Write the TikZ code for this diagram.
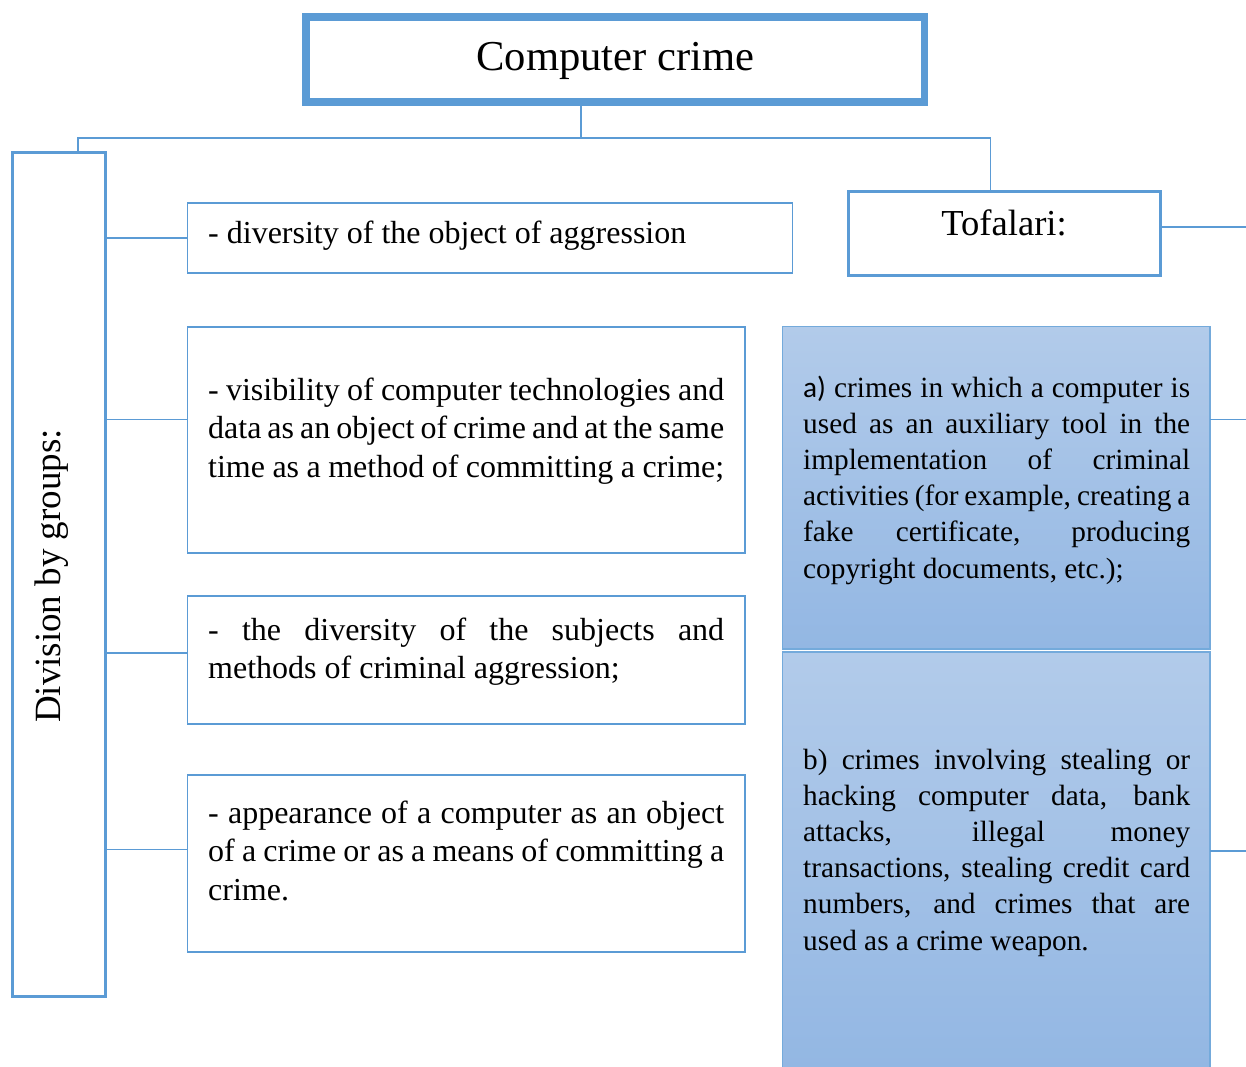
\documentclass[tikz,border=0pt]{standalone}
\usepackage{fontspec}
\setmainfont{Liberation Serif}
\newfontfamily\calfont{Carlito}
\usetikzlibrary{calc}
\definecolor{cblue}{RGB}{91,155,213}
\definecolor{gtop}{RGB}{178,203,234}
\definecolor{gbot}{RGB}{147,183,227}
\newcommand\jl[2]{\makebox[#1][s]{#2}}
\newcommand\lpar[1]{\parbox[t]{516pt}{\fontsize{32}{38.8}\selectfont #1}}
\newcommand\rpar[1]{\parbox[t]{387pt}{\fontsize{29.3}{36.2}\selectfont #1}}
\begin{document}
\begin{tikzpicture}[x=1pt,y=-1pt,
  box/.style={draw=cblue, line width=1.5pt, inner sep=0pt, outer sep=0pt, anchor=north west, rectangle},
  bluebox/.style={box, draw=cblue!85, top color=gtop, bottom color=gbot},
  conn/.style={draw=cblue, line width=1.5pt},
  ptxt/.style={inner sep=0pt, anchor=base west}]
\useasboundingbox (0,0) rectangle (1246,1066);

% title
\node[box, line width=7.5pt, minimum width=618.5pt, minimum height=85pt] (top) at (306,17) {};
\node[inner sep=0pt, anchor=base, font=\fontsize{42.6}{50}\selectfont] (toptxt) at (615.5,70.7) {Computer crime};

% groups box
\node[box, line width=3pt, minimum width=93pt, minimum height=844pt] (grp) at (12,152) {};
\node[rotate=90, anchor=base, inner sep=0pt, font=\fontsize{37}{44}\selectfont] (grptxt) at (60,576) {Division by groups:};

% left boxes
\node[box, minimum width=605pt, minimum height=70pt] (b1) at (187.5,203) {};
\node[box, minimum width=557.5pt, minimum height=226pt] (b2) at (187.5,327) {};
\node[box, minimum width=557.5pt, minimum height=128pt] (b3) at (187.5,596) {};
\node[box, minimum width=557.5pt, minimum height=177pt] (b4) at (187.5,775) {};

\node[ptxt] (t1) at (208,243) {\lpar{- diversity of the object of aggression}};
\node[ptxt] (t2) at (208,400) {\lpar{\jl{516pt}{- visibility of computer technologies and}\\
\jl{516pt}{data as an object of crime and at the same}\\
time as a method of committing a crime;}};
\node[ptxt] (t3) at (208,640) {\lpar{\jl{516pt}{- the diversity of the subjects and}\\
methods of criminal aggression;}};
\node[ptxt] (t4) at (208,823) {\lpar{\jl{516pt}{- appearance of a computer as an object}\\
\jl{516pt}{of a crime or as a means of committing a}\\
crime.}};

% Tofalari
\node[box, line width=3pt, minimum width=312pt, minimum height=84pt] (tof) at (848.5,191) {};
\node[inner sep=0pt, anchor=base, font=\fontsize{36.6}{44}\selectfont] (toftxt) at (1004,235.7) {Tofalari:};

% blue boxes
\node[bluebox, minimum width=427.5pt, minimum height=322.5pt] (ba) at (782.5,326.5) {};
\node[bluebox, minimum width=427.5pt, minimum height=416pt] (bb) at (782.5,652) {};

\node[ptxt] (ta) at (803,397) {\rpar{\jl{387pt}{{\calfont a)} crimes in which a computer is}\\
\jl{387pt}{used as an auxiliary tool in the}\\
\jl{387pt}{implementation of criminal}\\
\jl{387pt}{activities (for example, creating a}\\
\jl{387pt}{fake certificate, producing}\\
copyright documents, etc.);}};
\node[ptxt] (tb) at (803,769) {\rpar{\jl{387pt}{b) crimes involving stealing or}\\
\jl{387pt}{hacking computer data, bank}\\
\jl{387pt}{attacks, illegal money}\\
\jl{387pt}{transactions, stealing credit card}\\
\jl{387pt}{numbers, and crimes that are}\\
used as a crime weapon.}};

% top connectors
\coordinate (j) at (581,138);
\draw[conn] (top.south -| j) -- (j);
\draw[conn] (j) -| ([xshift=19.5pt]grp.north);
\draw[conn] (j) -| ([xshift=-14pt]tof.north);

% left connectors
\coordinate (p1) at ($(b1.north west)+(0,35)$);
\coordinate (p2) at ($(b2.north west)+(0,92.5)$);
\coordinate (p3) at ($(b3.north west)+(0,57)$);
\coordinate (p4) at ($(b4.north west)+(0,74.5)$);
\foreach \p in {p1,p2,p3,p4} {\draw[conn] (grp.east |- \p) -- (\p);}

% right connectors
\coordinate (qt) at ($(tof.north east)+(0,36)$);
\coordinate (qa) at ($(ba.north east)+(0,93)$);
\coordinate (qb) at ($(bb.north east)+(0,199)$);
\coordinate (et) at (1246,227);
\coordinate (ea) at (1246,419.5);
\coordinate (eb) at (1246,851);
\draw[conn] (qt) -- (et);
\draw[conn] (qa) -- (ea);
\draw[conn] (qb) -- (eb);
\end{tikzpicture}
\end{document}
